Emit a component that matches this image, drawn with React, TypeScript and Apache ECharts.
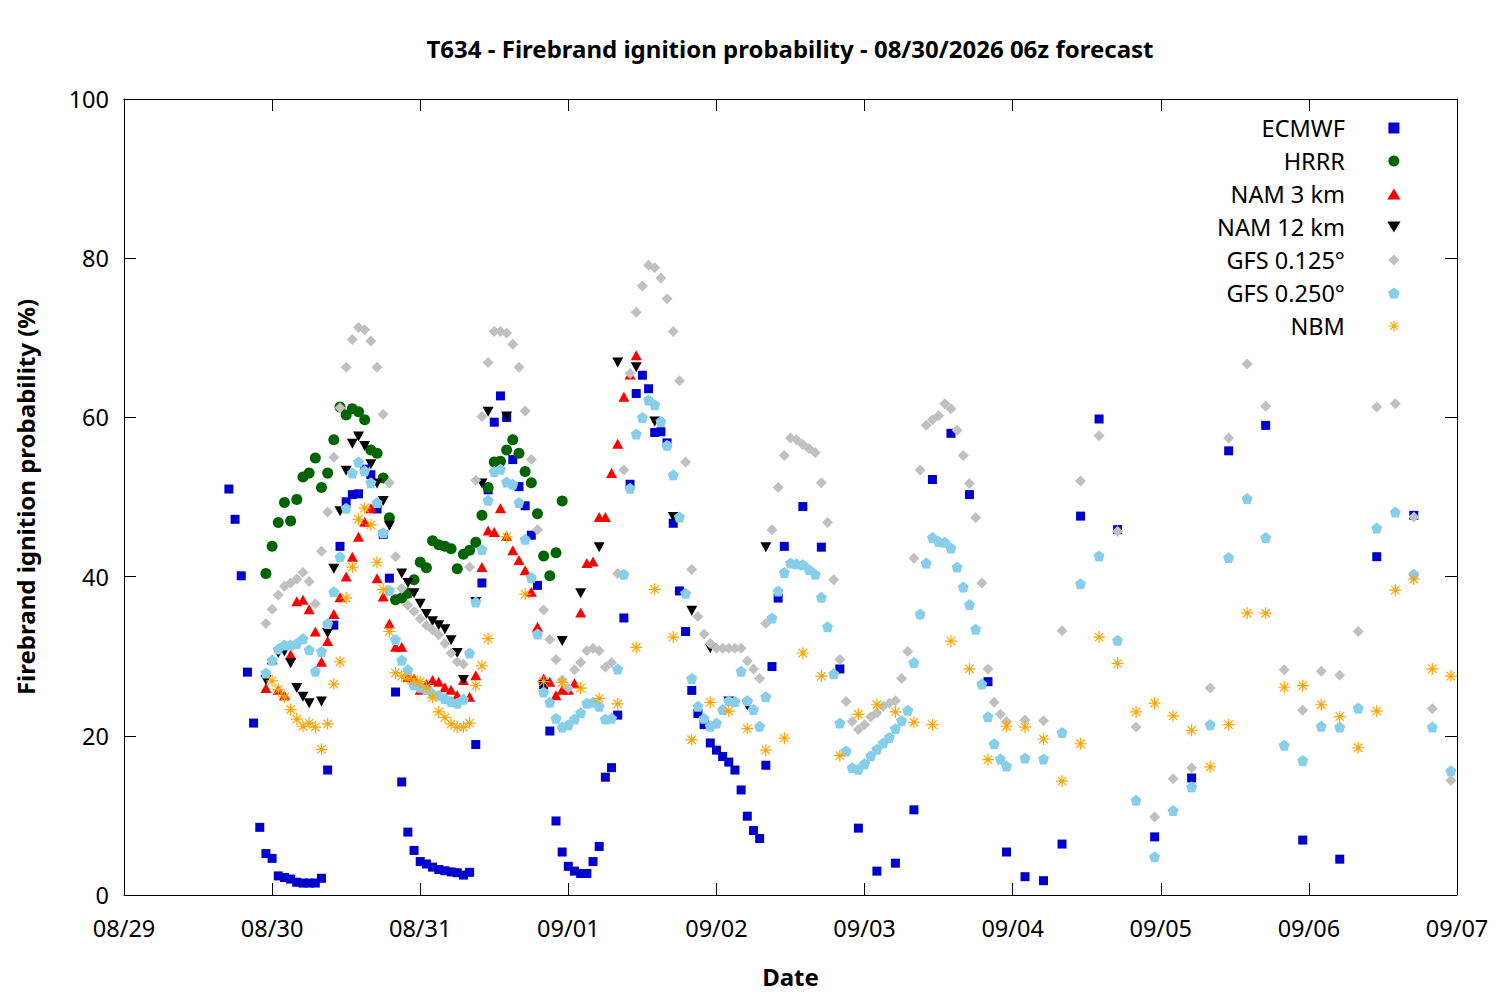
import { useEffect, useRef } from 'react'
import * as echarts from 'echarts'

const FONT = '"Noto Sans", "DejaVu Sans", sans-serif'

// forecast hours counted from 08/29 00z
const dateLabels = ['08/29', '08/30', '08/31', '09/01', '09/02', '09/03', '09/04', '09/05', '09/06', '09/07']

function steps(start: number, step: number, end: number): number[] {
  const out: number[] = []
  for (let h = start; h <= end; h += step) out.push(h)
  return out
}

const ecmwfHours = [...steps(17, 1, 106), ...steps(107, 3, 161), ...steps(167, 6, 209)]
const ecmwfValues = [
  51.0, 47.2, 40.1, 28.0, 21.6, 8.5, 5.2, 4.6, 2.4, 2.2,
  2.0, 1.6, 1.5, 1.5, 1.5, 2.1, 15.7, 33.9, 43.8, 49.4,
  50.3, 50.4, 53.5, 52.8, 48.5, 45.3, 39.8, 25.5, 14.2, 7.9,
  5.6, 4.2, 3.9, 3.5, 3.2, 3.05, 2.9, 2.8, 2.5, 2.85,
  18.9, 39.2, 50.9, 59.4, 62.7, 60.0, 54.7, 51.3, 48.9, 45.2,
  38.9, 26.4, 20.6, 9.3, 5.4, 3.6, 3.0, 2.7, 2.7, 4.2,
  6.1, 14.8, 16.0, 22.6, 34.8, 51.6, 63.0, 65.3, 63.6, 58.1,
  58.2, 56.8, 46.7, 38.2, 33.1, 25.7, 22.8, 21.4, 19.1, 18.2,
  17.4, 16.7, 15.7, 13.2, 9.9, 8.1, 7.1, 16.3, 28.7, 37.3,
  // 3-hourly
  43.8, 48.8, 43.7, 28.4, 8.4, 3.0, 4.0, 10.7, 52.2, 58.0,
  50.3, 26.8, 5.4, 2.3, 1.8, 6.4, 47.6, 59.8, 45.9,
  // 6-hourly
  7.3, 14.7, 55.8, 59.0, 6.9, 4.5, 42.5, 47.7
]

const hrrrHours = steps(23, 1, 71)
const hrrrValues = [
  40.4, 43.8, 46.8, 49.3, 47.0, 49.7, 52.5, 53.0, 54.9, 51.2,
  53.0, 57.2, 61.3, 60.3, 61.1, 60.7, 59.7, 55.9, 55.5, 52.4,
  47.4, 37.1, 37.3, 37.9, 39.6, 41.8, 41.1, 44.5, 44.0, 43.8,
  43.5, 41.0, 42.8, 43.3, 44.3, 47.7, 51.2, 54.4, 54.5, 55.9,
  57.2, 55.5, 53.2, 51.8, 47.9, 42.6, 40.1, 43.0, 49.5
]

const nam3Hours = steps(23, 1, 83)
const nam3Values = [
  26.0, 29.6, 25.8, 25.1, 30.2, 36.9, 37.1, 35.9, 33.1, 29.3,
  31.9, 35.3, 37.4, 40.0, 42.5, 45.0, 46.9, 48.6, 39.8, 37.5,
  34.1, 31.2, 31.2, 27.4, 27.2, 25.8, 26.5, 27.0, 26.8, 26.1,
  25.8, 25.1, 27.0, 24.9, 27.6, 41.2, 45.8, 45.6, 48.6, 45.1,
  43.3, 42.1, 40.8, 38.1, 33.7, 27.2, 26.8, 25.1, 25.8, 25.8,
  26.6, 35.5, 41.7, 41.9, 47.5, 47.5, 53.0, 56.7, 62.6, 65.4,
  67.8
]

const nam12Hours = [
  23, 25, 26, 27, 28, 29, 30, 32, 33, 34,
  35, 36, 37, 38, 39, 40, 41, 42, 43, 45,
  46, 47, 48, 49, 50, 51, 52, 53, 54, 55,
  57, 58, 59, 62, 68, 71, 74, 77, 80, 83,
  86, 89, 92, 95, 98, 101, 104
]
const nam12Values = [
  27.0, 30.4, 30.6, 29.1, 26.0, 24.9, 24.1, 24.3, 32.9, 41.0,
  48.2, 53.3, 56.7, 57.6, 56.4, 54.1, 51.7, 49.5, 46.4, 40.4,
  39.2, 37.9, 36.6, 35.3, 34.4, 33.9, 33.4, 32.0, 30.4, 27.0,
  36.8, 51.7, 60.7, 60.1, 26.4, 31.9, 37.9, 43.7, 66.9, 66.3,
  59.5, 47.5, 35.7, 31.0, 24.3, 23.8, 43.7
]

const gfs125Hours = [...steps(23, 1, 143), ...steps(146, 3, 215)]
const gfs125Values = [
  34.1, 35.9, 37.7, 38.8, 39.2, 39.7, 40.5, 39.4, 36.6, 43.2,
  48.1, 55.0, 61.2, 66.3, 69.8, 71.3, 71.0, 69.6, 66.3, 60.4,
  51.8, 42.5, 38.5, 36.4, 35.6, 34.7, 33.9, 33.3, 32.7, 31.6,
  30.4, 29.3, 29.0, 41.2, 52.1, 60.1, 66.9, 70.8, 70.8, 70.6,
  69.2, 66.3, 60.8, 54.7, 45.9, 35.8, 32.1, 29.6, 27.0, 26.0,
  28.3, 29.2, 30.7, 31.0, 30.7, 28.6, 29.2, 40.4, 53.4, 65.5,
  73.2, 76.5, 79.1, 78.8, 77.5, 74.9, 70.8, 64.6, 54.4, 40.9,
  35.0, 32.8, 31.6, 31.0, 31.0, 31.0, 31.0, 31.0, 29.4, 28.4,
  27.2, 34.1, 45.9, 51.2, 55.2, 57.4, 57.2, 56.6, 56.1, 55.6,
  51.8, 46.8, 39.6, 29.6, 24.3, 21.8, 20.8, 21.4, 22.4, 22.9,
  23.7, 24.1, 24.4, 27.2, 30.6, 42.3, 53.4, 59.0, 59.7, 60.2,
  61.7, 61.1, 58.4, 55.2, 51.7, 47.4, 39.2, 28.4, 24.2, 22.7,
  21.8,
  // 3-hourly
  22.0, 21.9, 33.2, 52.0, 57.7, 45.7, 21.1, 9.8, 14.6, 16.0,
  26.0, 57.4, 66.7, 61.4, 28.3, 23.2, 28.1, 27.6, 33.1, 61.3,
  61.7, 47.5, 23.4, 14.4
]

const gfs250Hours = [...steps(23, 1, 143), ...steps(146, 3, 215)]
const gfs250Values = [
  27.9, 29.5, 30.9, 31.4, 31.4, 31.6, 32.2, 30.8, 28.1, 30.6,
  34.1, 38.1, 42.5, 48.6, 53.0, 54.4, 53.3, 51.8, 49.3, 45.5,
  38.3, 32.1, 29.5, 28.3, 26.4, 26.1, 25.8, 25.3, 25.1, 24.7,
  24.3, 24.1, 24.6, 30.4, 36.8, 43.4, 49.6, 53.2, 53.5, 51.9,
  51.6, 49.3, 44.7, 39.9, 32.8, 25.5, 24.2, 22.2, 21.1, 21.4,
  22.1, 22.9, 24.1, 24.2, 23.7, 22.1, 22.2, 28.4, 40.3, 51.1,
  57.9, 60.0, 62.2, 61.6, 59.5, 56.5, 52.8, 47.5, 37.9, 27.2,
  23.7, 22.2, 21.2, 21.6, 23.3, 24.4, 24.3, 28.1, 24.4, 23.3,
  21.2, 24.9, 34.8, 38.2, 40.5, 41.7, 41.6, 41.5, 40.9, 40.3,
  37.4, 33.7, 27.8, 21.6, 18.1, 16.0, 15.8, 16.5, 17.5, 18.3,
  19.1, 19.8, 20.9, 21.9, 23.2, 29.2, 35.3, 41.7, 44.9, 44.4,
  44.3, 43.6, 41.2, 38.7, 36.5, 33.4, 26.5, 22.4, 19.0, 17.1,
  16.2,
  // 3-hourly
  17.2, 17.1, 20.4, 39.1, 42.6, 32.0, 11.9, 4.8, 10.6, 13.6,
  21.4, 42.4, 49.8, 44.9, 18.8, 16.9, 21.2, 21.1, 23.5, 46.1,
  48.1, 40.3, 21.1, 15.6
]

const nbmHours = [...steps(24, 1, 59), ...steps(62, 3, 215)]
const nbmValues = [
  26.9, 25.8, 24.9, 23.3, 22.1, 21.2, 21.6, 21.1, 18.3, 21.5,
  26.5, 29.3, 37.3, 41.2, 47.2, 48.6, 46.5, 41.8, 38.4, 33.1,
  27.9, 27.5, 27.2, 27.0, 26.8, 26.1, 24.8, 23.0, 22.3, 21.5,
  21.1, 21.1, 21.6, 26.3, 28.8, 32.2,
  // 3-hourly
  45.0, 37.8, 26.8, 26.7, 26.0, 24.7, 24.0, 31.1, 38.4, 32.4,
  19.5, 24.2, 23.1, 20.9, 18.2, 19.7, 30.4, 27.5, 17.5, 22.7,
  23.9, 23.0, 21.7, 21.4, 31.9, 28.4, 17.0, 21.2, 21.1, 19.6,
  14.3, 19.0, 32.4, 29.1, 23.0, 24.1, 22.5, 20.7, 16.1, 21.4,
  35.4, 35.4, 26.1, 26.3, 23.9, 22.4, 18.5, 23.1, 38.3, 39.7,
  28.4, 27.5
]

// path symbols keep their aspect in the legend, unlike the built-in ones
const SQUARE = 'path://M0,0L10,0L10,10L0,10Z'
const UP_TRIANGLE = 'path://M6,0L12,10L0,10Z'
const DOWN_TRIANGLE = 'path://M0,0L12,0L6,10Z'
const DIAMOND = 'path://M5,0L10,5L5,10L0,5Z'
const PENTAGON = 'path://M50,0L97.6,34.5L79.4,90.5L20.6,90.5L2.4,34.5Z'
const ASTERISK = 'path://M6,0L6,12M0,6L12,6M1.76,1.76L10.24,10.24M1.76,10.24L10.24,1.76'

interface ModelSeries {
  name: string
  hours: number[]
  values: number[]
  symbol: string
  size: number | number[]
  color: string
  stroke?: boolean
}

const models: ModelSeries[] = [
  { name: 'ECMWF', hours: ecmwfHours, values: ecmwfValues, symbol: SQUARE, size: 9, color: '#0000cd' },
  { name: 'HRRR', hours: hrrrHours, values: hrrrValues, symbol: 'circle', size: 11, color: '#006400' },
  { name: 'NAM 3 km', hours: nam3Hours, values: nam3Values, symbol: UP_TRIANGLE, size: [11, 10], color: '#ff0000' },
  { name: 'NAM 12 km', hours: nam12Hours, values: nam12Values, symbol: DOWN_TRIANGLE, size: [11, 10], color: '#000000' },
  { name: 'GFS 0.125°', hours: gfs125Hours, values: gfs125Values, symbol: DIAMOND, size: 11, color: '#c0c0c0' },
  { name: 'GFS 0.250°', hours: gfs250Hours, values: gfs250Values, symbol: PENTAGON, size: 11, color: '#87ceeb' },
  { name: 'NBM', hours: nbmHours, values: nbmValues, symbol: ASTERISK, size: 12, color: '#ffa500', stroke: true }
]

export default function App() {
  const chartRef = useRef<HTMLDivElement>(null)

  useEffect(() => {
    const host = chartRef.current
    if (!host) return
    const chart = echarts.init(host, null, { renderer: 'svg' })

    const axisLine = { show: true, onZero: false, lineStyle: { color: '#000', width: 1 } }
    const axisTick = { show: true, inside: true, length: 12, lineStyle: { color: '#000', width: 1 } }
    const labelStyle = { color: '#000', fontSize: 23.5, fontFamily: FONT }
    const nameStyle = { color: '#000', fontSize: 24, fontWeight: 'bold' as const, fontFamily: FONT }

    const option: echarts.EChartsOption = {
      animation: false,
      backgroundColor: '#fff',
      title: {
        text: 'T634 - Firebrand ignition probability - 08/30/2026 06z forecast',
        left: 790,
        top: 36,
        padding: 0,
        textAlign: 'center',
        textStyle: { ...nameStyle }
      },
      grid: { left: 124, right: 43, top: 99, bottom: 105, containLabel: false },
      legend: {
        orient: 'vertical',
        align: 'right',
        // the icon sits centred in an 88px slot; the box ends at the icon's right edge
        right: 99.5,
        top: 115,
        padding: 0,
        itemWidth: 88,
        itemHeight: 11,
        itemGap: 7,
        selectedMode: false,
        textStyle: { ...labelStyle, lineHeight: 26 },
        data: models.map((m) =>
          m.stroke ? { name: m.name, itemStyle: { borderWidth: 1.2 } } : { name: m.name }
        )
      },
      xAxis: [
        {
          type: 'value',
          position: 'bottom',
          min: 0,
          max: 216,
          interval: 24,
          axisLine,
          axisTick,
          splitLine: { show: false },
          axisLabel: {
            ...labelStyle,
            margin: 21,
            formatter: (v: number) => dateLabels[Math.round(v / 24)] ?? ''
          },
          name: 'Date',
          nameLocation: 'middle',
          nameGap: 69,
          nameTextStyle: nameStyle
        },
        {
          type: 'value',
          position: 'top',
          min: 0,
          max: 216,
          interval: 24,
          axisLine,
          axisTick,
          splitLine: { show: false },
          axisLabel: { show: false }
        }
      ],
      yAxis: [
        {
          type: 'value',
          position: 'left',
          min: 0,
          max: 100,
          interval: 20,
          axisLine,
          axisTick,
          splitLine: { show: false },
          axisLabel: { ...labelStyle, margin: 15 },
          name: 'Firebrand ignition probability (%)',
          nameLocation: 'middle',
          nameGap: 87,
          nameTextStyle: nameStyle
        },
        {
          type: 'value',
          position: 'right',
          min: 0,
          max: 100,
          interval: 20,
          axisLine,
          axisTick,
          splitLine: { show: false },
          axisLabel: { show: false }
        }
      ],
      series: models.map((m) => ({
        type: 'scatter' as const,
        name: m.name,
        xAxisIndex: 0,
        yAxisIndex: 0,
        symbol: m.symbol,
        symbolSize: m.size,
        itemStyle: m.stroke
          ? { color: m.color, borderColor: m.color, borderWidth: 1.2, opacity: 1 }
          : { color: m.color, opacity: 1 },
        emphasis: { disabled: true },
        data: m.hours.map((h, i) => [h, m.values[i]])
      }))
    }

    chart.setOption(option)

    return () => {
      chart.dispose()
    }
  }, [])

  return (
    <div
      ref={chartRef}
      style={{ position: 'absolute', left: 0, top: 0, width: 1500, height: 1000 }}
    />
  )
}
